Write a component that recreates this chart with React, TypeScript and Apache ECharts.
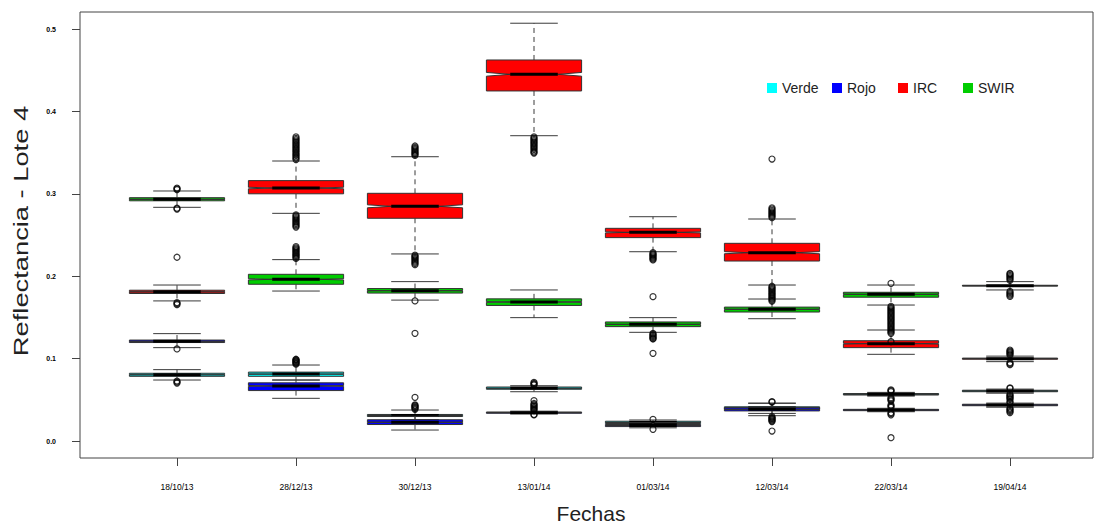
import React, { useEffect, useRef } from "react";
import * as echarts from "echarts";

// ---------- data ----------
const fechas = ["18/10/13", "28/12/13", "30/12/13", "13/01/14", "01/03/14", "12/03/14", "22/03/14", "19/04/14"];
const yTicks = [0, 0.1, 0.2, 0.3, 0.4, 0.5];
const bandNames = ["Verde", "Rojo", "IRC", "SWIR"];
const bandColors = ["#00FFFF", "#0000FF", "#FF0000", "#00CD00"];

// [lower whisker, Q1, median, Q3, upper whisker]
const verde = [
  [0.0740, 0.0785, 0.0803, 0.0822, 0.0866],
  [0.0740, 0.0785, 0.0812, 0.0836, 0.0922],
  [0.0260, 0.0297, 0.0310, 0.0322, 0.0376],
  [0.0598, 0.0628, 0.0640, 0.0655, 0.0671],
  [0.0190, 0.0212, 0.0226, 0.0240, 0.0255],
  [0.0335, 0.0385, 0.0400, 0.0415, 0.0460],
  [0.0545, 0.0558, 0.0567, 0.0576, 0.0590],
  [0.0580, 0.0598, 0.0607, 0.0616, 0.0630],
];
const rojo = [
  [0.1133, 0.1195, 0.1210, 0.1225, 0.1303],
  [0.0518, 0.0612, 0.0668, 0.0706, 0.0740],
  [0.0133, 0.0200, 0.0228, 0.0258, 0.0300],
  [0.0330, 0.0337, 0.0344, 0.0352, 0.0362],
  [0.0160, 0.0175, 0.0188, 0.0200, 0.0222],
  [0.0307, 0.0365, 0.0385, 0.0405, 0.0457],
  [0.0355, 0.0368, 0.0376, 0.0384, 0.0397],
  [0.0410, 0.0428, 0.0437, 0.0446, 0.0460],
];
const irc = [
  [0.1700, 0.1790, 0.1810, 0.1830, 0.1893],
  [0.2763, 0.3000, 0.3070, 0.3160, 0.3398],
  [0.2270, 0.2703, 0.2848, 0.3006, 0.3450],
  [0.3705, 0.4248, 0.4450, 0.4624, 0.5070],
  [0.2297, 0.2468, 0.2532, 0.2581, 0.2722],
  [0.1893, 0.2184, 0.2285, 0.2399, 0.2694],
  [0.1052, 0.1133, 0.1181, 0.1217, 0.1347],
  [0.0963, 0.0993, 0.0999, 0.1006, 0.1030],
];
const swir = [
  [0.2836, 0.2915, 0.2933, 0.2953, 0.3034],
  [0.1820, 0.1902, 0.1962, 0.2023, 0.2201],
  [0.1710, 0.1795, 0.1824, 0.1850, 0.1934],
  [0.1497, 0.1645, 0.1687, 0.1725, 0.1833],
  [0.1319, 0.1388, 0.1416, 0.1445, 0.1497],
  [0.1484, 0.1565, 0.1598, 0.1625, 0.1723],
  [0.1650, 0.1745, 0.1780, 0.1805, 0.1893],
  [0.1833, 0.1880, 0.1885, 0.1890, 0.1934],
];

// outliers per date
const verdeOut = [
  [0.0728, 0.0715, 0.0703],
  [0.0932, 0.0941, 0.0950, 0.0959, 0.0968, 0.0977, 0.0986, 0.0992],
  [0.0385, 0.0396, 0.0407, 0.0418, 0.0428, 0.0437, 0.0530],
  [0.0680, 0.0690, 0.0700, 0.0712],
  [0.0263],
  [0.0472],
  [0.0600, 0.0612, 0.0620, 0.0525, 0.0512, 0.0500, 0.0488],
  [0.0645, 0.0638, 0.0568, 0.0555, 0.0542, 0.0530, 0.0518, 0.0505],
];
const rojoOut = [
  [0.1117],
  [],
  [],
  [0.0370, 0.0382, 0.0394, 0.0406, 0.0418, 0.0430, 0.0442, 0.0455, 0.0490, 0.0322, 0.0316],
  [0.0142],
  [0.0477, 0.0295, 0.0285, 0.0275, 0.0265, 0.0255, 0.0245, 0.0236, 0.0121],
  [0.0410, 0.0424, 0.0437, 0.0345, 0.0332, 0.0318, 0.0040],
  [0.0477, 0.0466, 0.0398, 0.0385, 0.0372, 0.0358, 0.0345],
];
const ircOut = [
  [0.2230, 0.1680, 0.1668, 0.1655],
  [0.3415, 0.3432, 0.3448, 0.3465, 0.3480, 0.3496, 0.3512, 0.3528, 0.3544, 0.3560, 0.3576, 0.3592, 0.3608, 0.3624, 0.3640, 0.3656, 0.3672, 0.3690,
   0.2745, 0.2730, 0.2715, 0.2700, 0.2685, 0.2670, 0.2655, 0.2640, 0.2625, 0.2610, 0.2596],
  [0.3465, 0.3478, 0.3492, 0.3505, 0.3520, 0.3535, 0.3550, 0.3565, 0.3580,
   0.2255, 0.2242, 0.2228, 0.2215, 0.2200, 0.2185, 0.2170, 0.2155, 0.2140],
  [0.3690, 0.3675, 0.3660, 0.3645, 0.3630, 0.3615, 0.3600, 0.3585, 0.3570, 0.3555, 0.3540, 0.3520, 0.3505, 0.3495],
  [0.2285, 0.2272, 0.2260, 0.2248, 0.2235, 0.2222, 0.2210, 0.2198, 0.1752],
  [0.2710, 0.2725, 0.2740, 0.2755, 0.2770, 0.2785, 0.2800, 0.2815, 0.2830, 0.3422,
   0.1878, 0.1864, 0.1850, 0.1836, 0.1822, 0.1808, 0.1794, 0.1780, 0.1766, 0.1752, 0.1738, 0.1724, 0.1710, 0.1696],
  [],
  [0.1042, 0.1055, 0.1068, 0.1080, 0.1092, 0.1104, 0.0950, 0.0938, 0.0926],
];
const swirOut = [
  [0.3050, 0.3060, 0.3070, 0.2825, 0.2815],
  [0.2215, 0.2228, 0.2241, 0.2254, 0.2267, 0.2280, 0.2293, 0.2306, 0.2319, 0.2332, 0.2345, 0.2358],
  [0.1700, 0.1307],
  [],
  [0.1305, 0.1293, 0.1281, 0.1269, 0.1257, 0.1245, 0.1238, 0.1064],
  [],
  [0.1913, 0.1635, 0.1620, 0.1605, 0.1590, 0.1575, 0.1560, 0.1545, 0.1530, 0.1515, 0.1500, 0.1485, 0.1470, 0.1455,
   0.1440, 0.1425, 0.1410, 0.1395, 0.1380, 0.1365, 0.1350, 0.1335, 0.1320, 0.1307, 0.1205],
  [0.1950, 0.1965, 0.1980, 0.1995, 0.2010, 0.2025, 0.2035, 0.1815, 0.1800, 0.1785, 0.1770, 0.1755],
];

const bandStats = [verde, rojo, irc, swir];
const bandOutliers = [verdeOut, rojoOut, ircOut, swirOut];

// ---------- helpers ----------
const boxData = (stats: number[][]) => stats.map((s, i) => [i, ...s]);
const outData = (outs: number[][]) => {
  const r: number[][] = [];
  outs.forEach((arr, i) => arr.forEach((v) => r.push([i, v])));
  return r;
};

const renderBox = (params: any, api: any) => {
  const i = api.value(0);
  const x = api.coord([i, 0])[0];
  const band = api.size([1, 0])[0];
  const hw = band * 0.4;
  const cw = band * 0.2;
  const y = (k: number) => api.coord([i, api.value(k)])[1];
  const yLo = y(1), yQ1 = y(2), yMed = y(3), yQ3 = y(4), yHi = y(5);
  const n = (yQ1 - yQ3) * 0.06;
  const color = api.visual("color");
  const wStyle = { stroke: "#3a3a3a", lineWidth: 1, lineDash: [5, 4], fill: null };
  const cStyle = { stroke: "#3a3a3a", lineWidth: 1, fill: null };
  return {
    type: "group",
    children: [
      { type: "line", shape: { x1: x, y1: yQ3, x2: x, y2: yHi }, style: wStyle },
      { type: "line", shape: { x1: x, y1: yQ1, x2: x, y2: yLo }, style: wStyle },
      { type: "line", shape: { x1: x - cw, y1: yHi, x2: x + cw, y2: yHi }, style: cStyle },
      { type: "line", shape: { x1: x - cw, y1: yLo, x2: x + cw, y2: yLo }, style: cStyle },
      {
        type: "polygon",
        shape: {
          points: [
            [x - hw, yQ1], [x - hw, yMed + n], [x - hw / 2, yMed], [x - hw, yMed - n], [x - hw, yQ3],
            [x + hw, yQ3], [x + hw, yMed - n], [x + hw / 2, yMed], [x + hw, yMed + n], [x + hw, yQ1],
          ],
        },
        style: { fill: color, stroke: "#333", lineWidth: 1 },
      },
      { type: "line", shape: { x1: x - hw / 2, y1: yMed, x2: x + hw / 2, y2: yMed }, style: { stroke: "#000", lineWidth: 3 } },
    ],
  };
};

export default function App() {
  const ref = useRef<HTMLDivElement>(null);
  useEffect(() => {
    if (!ref.current) return;
    const chart = echarts.init(ref.current, null, { renderer: "svg" });
    const font = "Liberation Sans, Arial, sans-serif";
    const legendLeft = [767, 832, 898, 963];
    const series: any[] = [];
    bandNames.forEach((name, k) => {
      series.push({
        name,
        type: "custom",
        renderItem: renderBox,
        itemStyle: { color: bandColors[k] },
        encode: { x: 0, y: [1, 2, 3, 4, 5] },
        data: boxData(bandStats[k]),
        clip: false,
        silent: true,
        z: 2,
      });
    });
    bandNames.forEach((name, k) => {
      series.push({
        name: name + " atípicos",
        type: "scatter",
        symbol: "circle",
        symbolSize: 6,
        itemStyle: { color: "rgba(0,0,0,0)", borderColor: "#000", borderWidth: 1.2 },
        data: outData(bandOutliers[k]),
        silent: true,
        z: 3,
      });
    });
    chart.setOption({
      animation: false,
      backgroundColor: "#ffffff",
      grid: [
        { left: 117.5, right: 28.5, top: 29, bottom: 83, containLabel: false },
        { left: 117.5, right: 28.5, top: 12, bottom: 66, containLabel: false },
      ],
      legend: bandNames.map((name, k) => ({
        data: [name],
        left: legendLeft[k],
        top: 81,
        icon: "rect",
        itemWidth: 10,
        itemHeight: 10,
        padding: 0,
        selectedMode: false,
        textStyle: { fontSize: 14, color: "#222", fontFamily: font },
      })),
      xAxis: [
        {
          type: "category",
          gridIndex: 0,
          data: fechas,
          show: false,
        },
        {
          type: "category",
          gridIndex: 1,
          data: fechas,
          position: "bottom",
          axisLine: { show: false },
          axisTick: { show: true, alignWithLabel: true, inside: false, length: 8, lineStyle: { color: "#444" } },
          axisLabel: { fontSize: 8.5, color: "#000", margin: 24, fontFamily: font },
          splitLine: { show: false },
        },
      ],
      yAxis: [
        {
          type: "value",
          gridIndex: 0,
          min: yTicks[0],
          max: yTicks[yTicks.length - 1],
          interval: 0.1,
          offset: 37.5,
          axisLine: { show: false },
          axisTick: { show: true, length: 8, lineStyle: { color: "#444" } },
          axisLabel: {
            fontSize: 7,
            fontWeight: "bold",
            color: "#000",
            margin: 24,
            fontFamily: font,
            formatter: (v: number) => v.toFixed(1),
          },
          splitLine: { show: false },
        },
        {
          type: "value",
          gridIndex: 1,
          min: 0,
          max: 1,
          show: false,
        },
      ],
      graphic: [
        {
          type: "rect",
          shape: { x: 80, y: 12, width: 1013, height: 446 },
          style: { fill: "none", stroke: "#444", lineWidth: 1 },
          silent: true,
        },
        {
          type: "text",
          x: 21,
          y: 231,
          rotation: Math.PI / 2,
          scaleX: 1.3,
          style: {
            text: "Reflectancia - Lote 4",
            font: "21px " + font,
            fill: "#222",
            align: "center",
            verticalAlign: "middle",
            textAlign: "center",
            textVerticalAlign: "middle",
          },
          silent: true,
        },
        {
          type: "text",
          x: 591,
          y: 513,
          style: {
            text: "Fechas",
            font: "21px " + font,
            fill: "#222",
            align: "center",
            verticalAlign: "middle",
            textAlign: "center",
            textVerticalAlign: "middle",
          },
          silent: true,
        },
      ],
      series,
    });
    return () => chart.dispose();
  }, []);
  return <div ref={ref} style={{ position: "fixed", left: 0, top: 0, width: 1098, height: 524, background: "#fff" }} />;
}
